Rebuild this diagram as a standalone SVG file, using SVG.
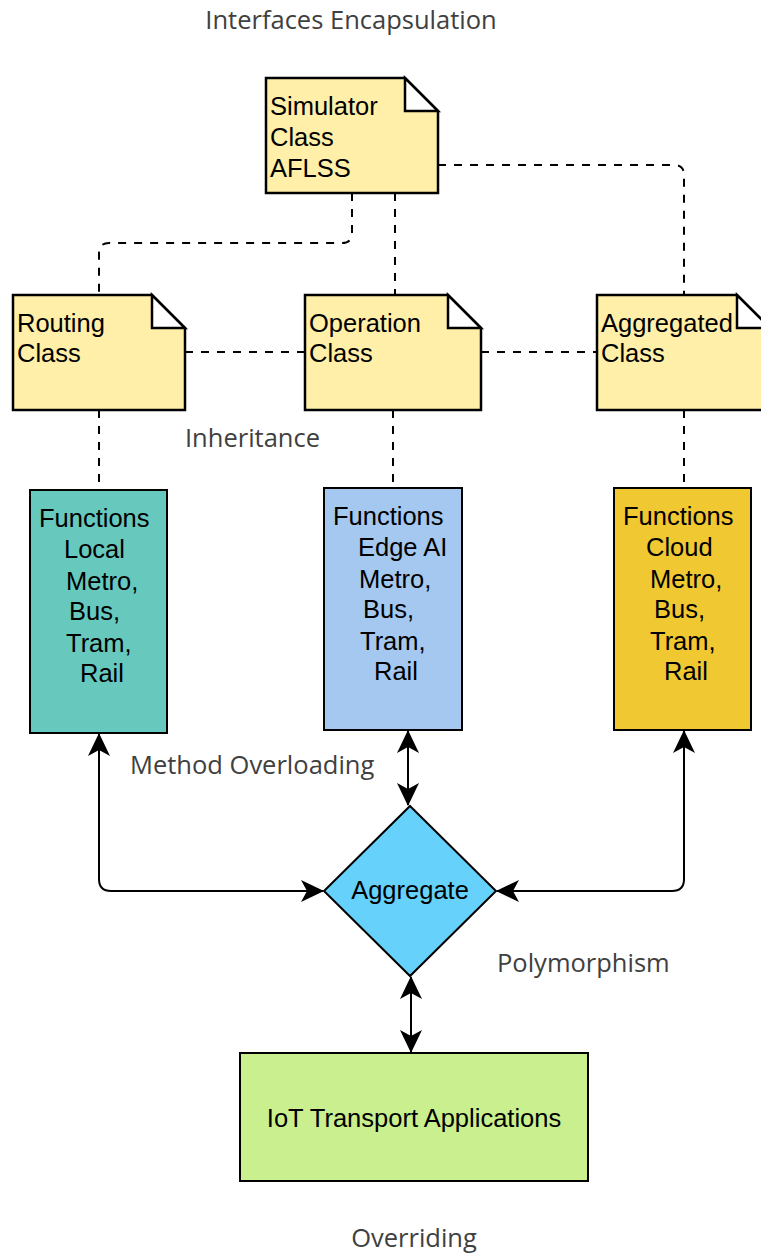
<svg xmlns="http://www.w3.org/2000/svg" width="761" height="1253" viewBox="0 0 761 1253">
<defs>
<marker id="arr" viewBox="0 0 23 22" markerWidth="23" markerHeight="22" refX="22" refY="11" orient="auto-start-reverse" markerUnits="userSpaceOnUse">
<path d="M0,0 L23,11 L0,22 L6,11 Z" fill="#000"/>
</marker>
</defs>
<style>
.note{fill:#ffefa8;stroke:#000;stroke-width:2.5;stroke-linejoin:miter}
.fold{fill:#fff;stroke:#000;stroke-width:2.5}
.box{stroke:#000;stroke-width:2}
.t{font-family:"Liberation Sans",Arial,sans-serif;font-size:25.5px;fill:#000}
.lbl{font-family:"Open Sans",sans-serif;font-size:25.5px;fill:#404040}
.dash{fill:none;stroke:#000;stroke-width:2;stroke-dasharray:8 8}
.sol{fill:none;stroke:#000;stroke-width:2}
</style>
<rect width="761" height="1253" fill="#fff"/>
<g id="connectors">
<path class="dash" d="M352,193 V233 Q352,243 342,243 H109 Q99,243 99,253 V295"/>
<path class="dash" d="M395,193 V295"/>
<path class="dash" d="M438,165 H674 Q684,165 684,175 V295"/>
<path class="dash" d="M185,352 H305"/>
<path class="dash" d="M481,352 H597"/>
<path class="dash" d="M99,410 V490"/>
<path class="dash" d="M393,410 V488"/>
<path class="dash" d="M684,410 V488"/>
<path class="sol" d="M99,734 V879 Q99,891 111,891 H323" marker-start="url(#arr)" marker-end="url(#arr)"/>
<path class="sol" d="M408,731 V805" marker-start="url(#arr)" marker-end="url(#arr)"/>
<path class="sol" d="M684,731 V879 Q684,891 672,891 H497" marker-start="url(#arr)" marker-end="url(#arr)"/>
<path class="sol" d="M411,977 V1052" marker-start="url(#arr)" marker-end="url(#arr)"/>
</g>
<g id="simulator">
<path class="note" d="M266,78 H405 L438,111 V193 H266 Z"/>
<path class="fold" d="M405,78 V111 H438 Z"/>
<text class="t" x="270" y="115">Simulator</text>
<text class="t" x="270" y="146">Class</text>
<text class="t" x="270" y="177">AFLSS</text>
</g>
<g id="routing">
<path class="note" d="M13,295 H152 L185,328 V410 H13 Z"/>
<path class="fold" d="M152,295 V328 H185 Z"/>
<text class="t" x="17" y="332">Routing</text>
<text class="t" x="17" y="362">Class</text>
</g>
<g id="operation">
<path class="note" d="M305,295 H448 L481,328 V410 H305 Z"/>
<path class="fold" d="M448,295 V328 H481 Z"/>
<text class="t" x="309" y="332">Operation</text>
<text class="t" x="309" y="362">Class</text>
</g>
<g id="aggregated">
<path class="note" d="M597,295 H737 L770,328 V410 H597 Z"/>
<path class="fold" d="M737,295 V328 H770 Z"/>
<text class="t" x="601" y="332">Aggregated</text>
<text class="t" x="601" y="362">Class</text>
</g>
<g id="local">
<rect class="box" x="30" y="490" width="137" height="243" fill="#67c8be"/>
<text class="t" x="39" y="527">Functions</text>
<text class="t" x="64" y="558">Local</text>
<text class="t" x="66" y="590">Metro,</text>
<text class="t" x="69" y="620">Bus,</text>
<text class="t" x="66" y="652">Tram,</text>
<text class="t" x="80" y="682">Rail</text>
</g>
<g id="edgeai">
<rect class="box" x="324" y="488" width="138" height="242" fill="#a4c8f0"/>
<text class="t" x="333" y="525">Functions</text>
<text class="t" x="358" y="556">Edge AI</text>
<text class="t" x="359" y="588">Metro,</text>
<text class="t" x="363" y="618">Bus,</text>
<text class="t" x="360" y="650">Tram,</text>
<text class="t" x="374" y="680">Rail</text>
</g>
<g id="cloud">
<rect class="box" x="614" y="488" width="137" height="242" fill="#f0c832"/>
<text class="t" x="623" y="525">Functions</text>
<text class="t" x="646" y="556">Cloud</text>
<text class="t" x="650" y="588">Metro,</text>
<text class="t" x="654" y="618">Bus,</text>
<text class="t" x="650" y="650">Tram,</text>
<text class="t" x="664" y="680">Rail</text>
</g>
<g id="aggregate">
<path class="box" d="M410,806 L496,891 L410,976 L324,891 Z" fill="#66d1fa"/>
<text class="t" x="410" y="899" text-anchor="middle">Aggregate</text>
</g>
<g id="iot">
<rect class="box" x="240" y="1053" width="348" height="128" fill="#c9ef8e"/>
<text class="t" x="414" y="1127" text-anchor="middle">IoT Transport Applications</text>
</g>
<g id="labels">
<text class="lbl" x="351" y="29" text-anchor="middle">Interfaces Encapsulation</text>
<text class="lbl" x="185" y="447">Inheritance</text>
<text class="lbl" x="130" y="774">Method Overloading</text>
<text class="lbl" x="497" y="972">Polymorphism</text>
<text class="lbl" x="414" y="1247" text-anchor="middle">Overriding</text>
</g>
</svg>
